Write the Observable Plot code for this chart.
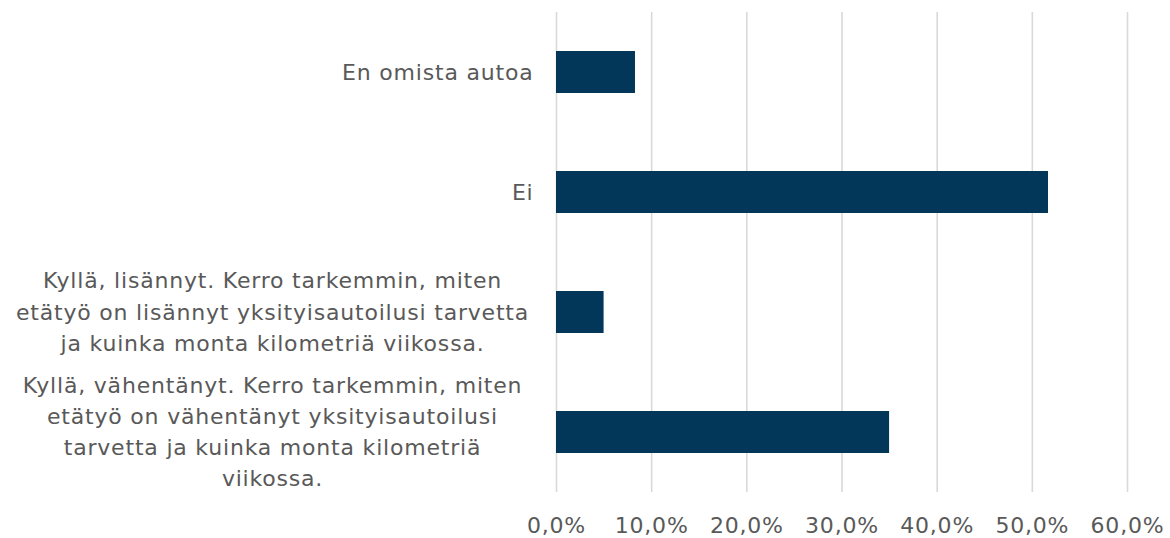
<!DOCTYPE html>
<html>
<head>
<meta charset="utf-8">
<script src="https://cdn.jsdelivr.net/npm/d3@7"></script>
<script src="https://cdn.jsdelivr.net/npm/@observablehq/plot@0.6"></script>
<style>
  html, body { margin: 0; padding: 0; background: #fff; }
  #chart svg { display: block; }
  #chart svg text { letter-spacing: 0.8px; }
</style>
</head>
<body>
<div id="chart"></div>
<script>
const categories = [
  "En omista autoa",
  "Ei",
  "Kyllä, lisännyt. Kerro tarkemmin, miten\netätyö on lisännyt yksityisautoilusi tarvetta\nja kuinka monta kilometriä viikossa.",
  "Kyllä, vähentänyt. Kerro tarkemmin, miten\netätyö on vähentänyt yksityisautoilusi\ntarvetta ja kuinka monta kilometriä\nviikossa."
];
const values = [0.083, 0.517, 0.050, 0.350];
const xTicks = [0, 0.1, 0.2, 0.3, 0.4, 0.5, 0.6];

const data = categories.map((c, i) => ({category: c, value: values[i]}));
const singleLine = categories.filter(c => !c.includes("\n"));
const multiLine = categories.filter(c => c.includes("\n"));
const fmt = d => (d * 100).toFixed(1).replace(".", ",") + "%";
const textColor = "#595959";

const chart = Plot.plot({
  width: 1170,
  height: 538,
  marginLeft: 556,
  marginRight: 43,
  marginTop: 12,
  marginBottom: 46,
  style: {fontFamily: "'DejaVu Sans', Verdana, sans-serif", fontSize: "22px", color: textColor, background: "#fff"},
  x: {domain: [0, 0.6], ticks: xTicks},
  y: {domain: categories, paddingInner: 0.65, paddingOuter: 0.325},
  marks: [
    Plot.gridX(xTicks, {stroke: "#d9d9d9", strokeOpacity: 1, strokeWidth: 1.6}),
    Plot.barX(data, {y: "category", x: "value", fill: "#03375a"}),
    Plot.axisX({ticks: xTicks, tickFormat: fmt, tickSize: 0, tickPadding: 25, fontSize: 22, fill: textColor, label: null}),
    Plot.axisY({ticks: singleLine, tickSize: 0, tickPadding: 23, fontSize: 22, fill: textColor, label: null, textAnchor: "end"}),
    Plot.axisY({ticks: multiLine, tickSize: 0, tickPadding: 284, fontSize: 22, fill: textColor, label: null, textAnchor: "middle", lineHeight: 1.42, dy: -3})
  ]
});
document.getElementById("chart").appendChild(chart);
</script>
</body>
</html>
